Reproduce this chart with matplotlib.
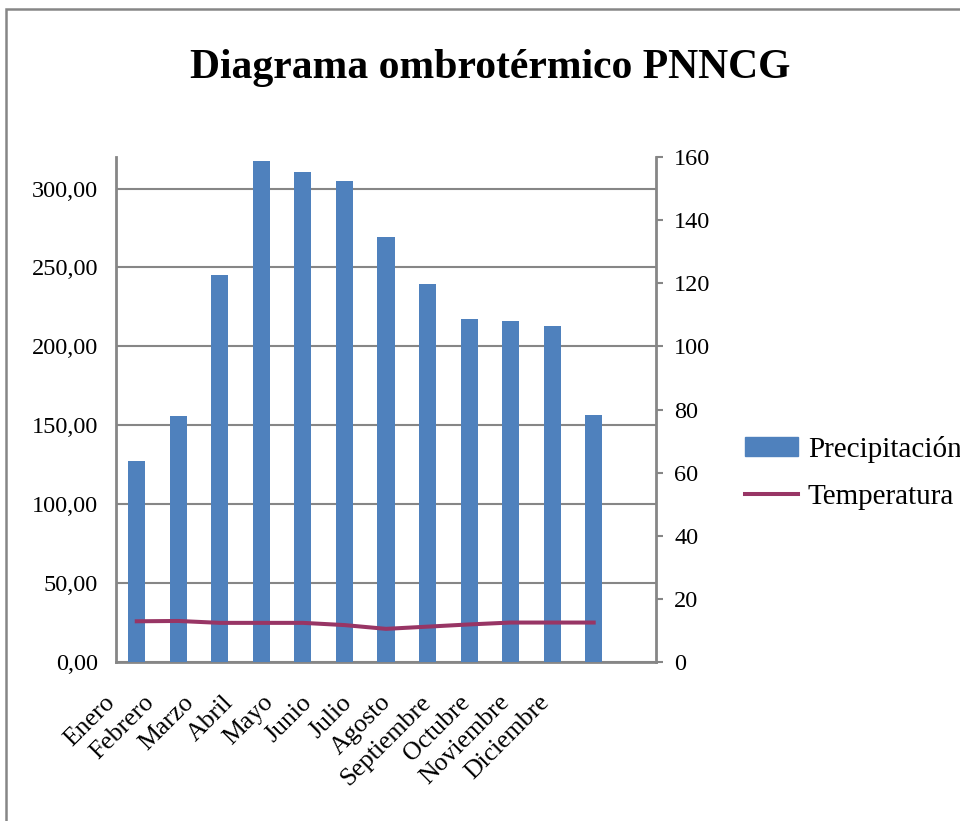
import matplotlib
matplotlib.use("Agg")
import matplotlib.pyplot as plt
import matplotlib.transforms as mtransforms
from matplotlib.patches import Rectangle, Patch
from matplotlib.lines import Line2D
from matplotlib.ticker import FuncFormatter

# datos mensuales
meses = ["Enero", "Febrero", "Marzo", "Abril", "Mayo", "Junio", "Julio",
         "Agosto", "Septiembre", "Octubre", "Noviembre", "Diciembre"]
precipitacion = [127.5, 156.0, 245.4, 317.7, 310.7, 305.0, 269.0,
                 239.7, 217.5, 216.2, 213.0, 156.6]
temperatura = [12.9, 13.0, 12.4, 12.4, 12.4, 11.7, 10.5,
               11.2, 11.9, 12.5, 12.5, 12.5]

AZUL = "#4F81BD"
MORADO = "#983565"
GRIS = "#868686"

plt.rcParams["font.family"] = ["Liberation Serif", "DejaVu Serif"]

fig = plt.figure(figsize=(9.6, 8.21), dpi=100)

# marco del grafico
fig.patches.append(Rectangle((6 / 960, -0.05), 1.1, 1 - 9 / 821 + 0.05,
                             transform=fig.transFigure, fill=False,
                             edgecolor=GRIS, linewidth=1.8))

ax = fig.add_axes([116 / 960, 159 / 821, 540 / 960, 505 / 821])
ax2 = ax.twinx()

x = list(range(len(meses)))
ax.bar(x, precipitacion, width=0.41, color=AZUL, zorder=3)
ax2.plot(x, temperatura, color=MORADO, linewidth=2.9, zorder=4)

# eje izquierdo (precipitacion)
ax.set_xlim(-0.5, 12.5)
ax.set_ylim(0, 320)
ax.set_yticks([0, 50, 100, 150, 200, 250, 300])
ax.yaxis.set_major_formatter(FuncFormatter(lambda v, p: f"{v:.2f}".replace(".", ",")))
ax.grid(axis="y", color=GRIS, linewidth=1.5, zorder=0)
ax.tick_params(axis="y", length=0, pad=13, labelsize=17.5)
ax.tick_params(axis="x", length=0, pad=0, labelsize=18.5)

# eje derecho (temperatura)
ax2.set_ylim(0, 160)
ax2.set_yticks(range(0, 161, 20))
ax2.tick_params(axis="y", length=5, width=1.5, color=GRIS, pad=8, labelsize=17.5)

for a in (ax, ax2):
    a.spines["top"].set_visible(False)
    for s in ("left", "right", "bottom"):
        a.spines[s].set_color(GRIS)
        a.spines[s].set_linewidth(2)
ax.spines["right"].set_visible(False)
ax2.spines["left"].set_visible(False)
ax2.spines["bottom"].set_visible(False)

# la linea por encima de las barras
ax.set_zorder(1)
ax2.set_zorder(2)
ax2.patch.set_visible(False)

# etiquetas de los meses giradas
ax.set_xticks(x)
ax.set_xticklabels(meses, rotation=45, ha="right", va="center",
                   rotation_mode="anchor")
for i, lab in enumerate(ax.get_xticklabels()):
    dx = (-25 - 2.1 * i) / 100
    dy = -37 / 100
    lab.set_transform(lab.get_transform() +
                      mtransforms.ScaledTranslation(dx, dy, fig.dpi_scale_trans))

fig.text(490 / 960, 1 - 78 / 821, "Diagrama ombrotérmico PNNCG",
         ha="center", va="baseline", fontsize=30, fontweight="bold")

handles = [Patch(facecolor=AZUL, edgecolor=AZUL),
           Line2D([], [], color=MORADO, linewidth=2.9)]
fig.legend(handles, ["Precipitación", "Temperatura"],
           loc="upper left", bbox_to_anchor=(745 / 960, 1 - 436 / 821),
           frameon=False, fontsize=21, borderpad=0, borderaxespad=0,
           handlelength=1.8, handleheight=0.6, handletextpad=0.35,
           labelspacing=0.72)

fig.savefig("out.png", dpi=100)
